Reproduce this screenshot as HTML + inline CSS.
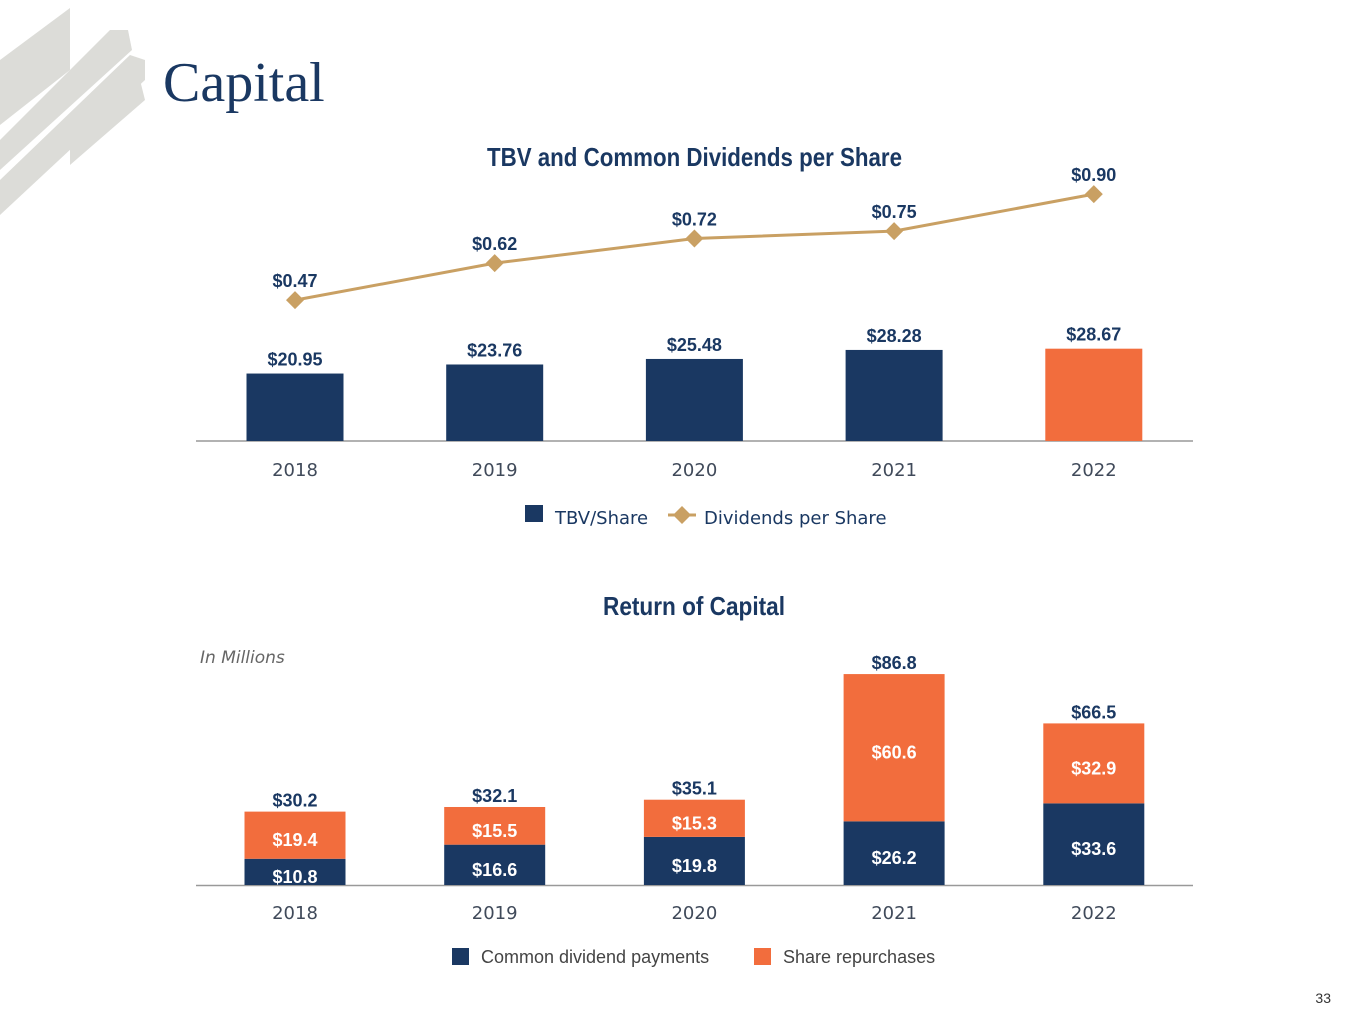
<!DOCTYPE html>
<html><head><meta charset="utf-8"><style>
html,body{margin:0;padding:0;background:#fff;}
svg{display:block;}
.t{font-family:"Liberation Sans Narrow","Liberation Sans",sans-serif;font-weight:bold;fill:#1a3862;}
.ax{font-family:"DejaVu Sans",sans-serif;font-size:18px;fill:#404a5a;}
</style></head><body>
<svg id="s" width="1365" height="1024" viewBox="0 0 1365 1024" xmlns="http://www.w3.org/2000/svg">
<g fill="#dcdcd8">
<polygon points="0,60 70,8 70,70 0,125"/>
<polygon points="0,140 110,30 128,30 132,50 0,170"/>
<polygon points="0,180 130,55 145,60 145,80 0,215"/>
<polygon points="70,120 140,80 145,100 70,165"/>
</g>
<text x="163" y="101" font-family="Liberation Serif,serif" font-size="56" fill="#1a3862">Capital</text>
<text class="t" x="487" y="166" font-size="26" textLength="415" lengthAdjust="spacingAndGlyphs">TBV and Common Dividends per Share</text>
<text class="t" x="603" y="615" font-size="26" textLength="182" lengthAdjust="spacingAndGlyphs">Return of Capital</text>
<text x="200" y="663" font-family="DejaVu Sans,sans-serif" font-style="italic" font-size="17" fill="#666">In Millions</text>
<line x1="196" y1="441" x2="1193" y2="441" stroke="#999" stroke-width="1.5"/>
<line x1="196" y1="885.5" x2="1193" y2="885.5" stroke="#999" stroke-width="1.5"/>
<g id="topg"></g><g id="botg"></g>
<g>
<rect x="525" y="505" width="18" height="17" fill="#1a3862"/>
<text x="555" y="524" class="ax" style="fill:#1a3862">TBV/Share</text>
<line x1="668" y1="515" x2="696" y2="515" stroke="#c9a063" stroke-width="3"/>
<polygon points="682,506 691,515 682,524 673,515" fill="#c9a063"/>
<text x="704" y="524" class="ax" style="fill:#1a3862">Dividends per Share</text>
</g>
<g font-family="Liberation Sans,sans-serif" font-size="18" fill="#444">
<rect x="452" y="948" width="17" height="17" fill="#1a3862"/>
<text x="481" y="963">Common dividend payments</text>
<rect x="754" y="948" width="17" height="17" fill="#f26d3d"/>
<text x="783" y="963">Share repurchases</text>
</g>
<text x="1331" y="1003" font-family="Liberation Sans,sans-serif" font-size="14" fill="#333" text-anchor="end">33</text>
</svg>
<script>
const years=["2018","2019","2020","2021","2022"];
const tbv=[20.95,23.76,25.48,28.28,28.67];
const tbvLabels=["$20.95","$23.76","$25.48","$28.28","$28.67"];
const dps=[0.47,0.62,0.72,0.75,0.90];
const dpsLabels=["$0.47","$0.62","$0.72","$0.75","$0.90"];
const divPay=[10.8,16.6,19.8,26.2,33.6];
const repurch=[19.4,15.5,15.3,60.6,32.9];
const totals=[30.2,32.1,35.1,86.8,66.5];

const NS="http://www.w3.org/2000/svg";
function mk(p,tag,a,txt){const e=document.createElementNS(NS,tag);for(const k in a)e.setAttribute(k,a[k]);if(txt!=null)e.textContent=txt;p.appendChild(e);return e;}
const xc=i=>295+i*199.7;
const yTbv=v=>441-v*3.22;
const yDps=v=>416-v*246.5;
const yRet=v=>885-v*2.43;
const fmt=v=>"$"+v.toFixed(1);
const gTop=document.getElementById('topg'),gBot=document.getElementById('botg');
let pts=[];
years.forEach((y,i)=>{
  const x=xc(i);
  const r=mk(gTop,'rect',{x:x-48.5,y:yTbv(tbv[i]),width:97,height:441-yTbv(tbv[i]),fill:i==4?'#f26d3d':'#1a3862'});
  
  
  const l=mk(gTop,'text',{x:x,y:yTbv(tbv[i])-8,'text-anchor':'middle',class:'t','font-size':18},tbvLabels[i]);
  
  
  const a=mk(gTop,'text',{x:x,y:476,'text-anchor':'middle',class:'ax'},y);
  
  
  pts.push(x+','+yDps(dps[i]));
});
const pl=mk(gTop,'polyline',{points:pts.join(' '),fill:'none',stroke:'#c9a063','stroke-width':3});


years.forEach((y,i)=>{
  const x=xc(i),yy=yDps(dps[i]);
  const m=mk(gTop,'polygon',{points:`${x},${yy-9} ${x+9},${yy} ${x},${yy+9} ${x-9},${yy}`,fill:'#c9a063'});
  
  
  const l=mk(gTop,'text',{x:x,y:yy-13,'text-anchor':'middle',class:'t','font-size':18},dpsLabels[i]);
  
  
});
years.forEach((y,i)=>{
  const x=xc(i);
  const y1=yRet(divPay[i]),y2=yRet(divPay[i]+repurch[i]);
  const b=mk(gBot,'rect',{x:x-50.5,y:y1,width:101,height:885-y1,fill:'#1a3862'});
  
  
  const o=mk(gBot,'rect',{x:x-50.5,y:y2,width:101,height:y1-y2,fill:'#f26d3d'});
  
  
  const l1=mk(gBot,'text',{x:x,y:Math.min((y1+885)/2+11,884),'text-anchor':'middle',class:'t','font-size':18,style:'fill:#fff'},fmt(divPay[i]));
  
  
  const l2=mk(gBot,'text',{x:x,y:(y1+y2)/2+11,'text-anchor':'middle',class:'t','font-size':18,style:'fill:#fff'},fmt(repurch[i]));
  
  
  const t=mk(gBot,'text',{x:x,y:y2-5,'text-anchor':'middle',class:'t','font-size':18},fmt(totals[i]));
  
  
  const a=mk(gBot,'text',{x:x,y:919,'text-anchor':'middle',class:'ax'},y);
  
  
});
</script>
</body></html>
